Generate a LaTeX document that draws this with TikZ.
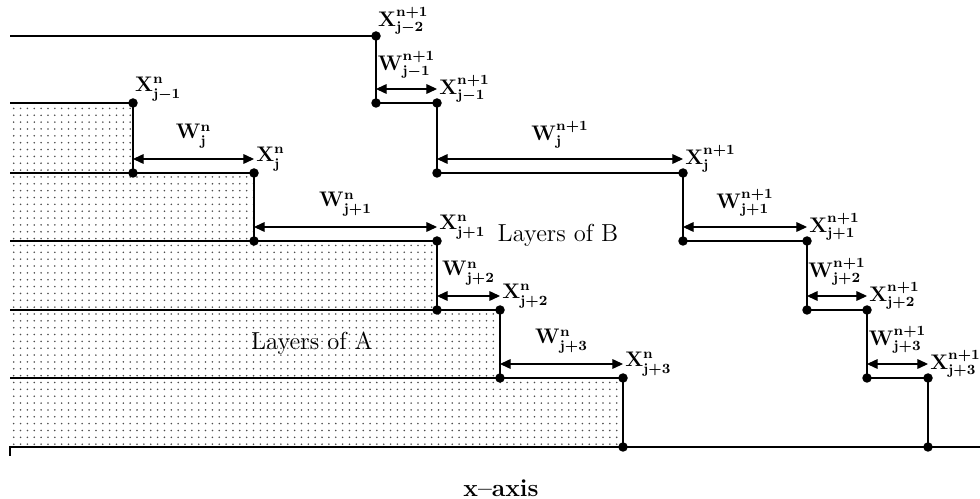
\documentclass[tikz,border=0pt]{standalone}
\usetikzlibrary{arrows.meta,patterns.meta}
\tikzset{
  every node/.style={text=black},
  dot/.style={circle, fill=black, inner sep=0pt, minimum size=0.19cm},
  layer/.style={line width=1.6pt, line join=miter},
  axisl/.style={line width=0.8pt},
  dim/.style={{Triangle[length=6pt,width=5.5pt]}-{Triangle[length=6pt,width=5.5pt]}, line width=0.6pt},
  lab/.style={font=\fontsize{12}{14}\selectfont\boldmath, inner sep=1pt},
  wlab/.style={lab, above=5pt},
  xlab/.style={lab, anchor=west},
  xtop/.style={lab, anchor=south west},
  fillA/.style={pattern={Dots[distance=3.9pt,radius=0.5pt]}, pattern color=black!70},
  layertxt/.style={font=\fontsize{14}{16}\selectfont},
}
\newcommand{\steplab}[3]{$\mathbf{#1}^{\mathbf{#2}}_{\mathbf{#3}}$}

\begin{document}
\begin{tikzpicture}[x=0.02cm,y=-0.02cm]
\useasboundingbox (0,0) rectangle (980,499);
% free ends on the left and the axis
\coordinate (lB) at (10,36);
\coordinate (lA0) at (10,103);
\coordinate (lA1) at (10,173);
\coordinate (lA2) at (10,241);
\coordinate (lA3) at (10,310);
\coordinate (lA4) at (10,378);
\coordinate (lA5) at (10,447);
\coordinate (axT) at (10,456);
\coordinate (axR) at (980,447);
% corners of the A front
\coordinate (pA0) at (133,103);
\coordinate (pA1) at (133,173);
\coordinate (pA2) at (254,173);
\coordinate (pA3) at (254,241);
\coordinate (pA4) at (437,241);
\coordinate (pA5) at (437,310);
\coordinate (pA6) at (500,310);
\coordinate (pA7) at (500,378);
\coordinate (pA8) at (623,378);
\coordinate (pA9) at (623,447);
% corners of the B front
\coordinate (pB0) at (376,36);
\coordinate (pB1) at (376,103);
\coordinate (pB2) at (437,103);
\coordinate (pB3) at (437,173);
\coordinate (pB4) at (683,173);
\coordinate (pB5) at (683,241);
\coordinate (pB6) at (807,241);
\coordinate (pB7) at (807,310);
\coordinate (pB8) at (867,310);
\coordinate (pB9) at (867,378);
\coordinate (pB10) at (928,378);
\coordinate (pB11) at (928,447);
% dotted layers of A
\fill[fillA] (lA0) -- (pA0) -- (pA1) -- (pA2) -- (pA3) -- (pA4) -- (pA5) -- (pA6) -- (pA7) -- (pA8) -- (pA9) -- (lA5) -- cycle;
% layer boundaries
\draw[layer] (lA0) -- (pA0) -- (pA1) -- (pA2) -- (pA3) -- (pA4) -- (pA5) -- (pA6) -- (pA7) -- (pA8) -- (pA9);
\draw[layer] (lA1) -- (pA1);
\draw[layer] (lA2) -- (pA3);
\draw[layer] (lA3) -- (pA5);
\draw[layer] (lA4) -- (pA7);
\draw[layer] (lB) -- (pB0) -- (pB1) -- (pB2) -- (pB3) -- (pB4) -- (pB5) -- (pB6) -- (pB7) -- (pB8) -- (pB9) -- (pB10) -- (pB11);
\draw[axisl] (axT) -- (lA5) -- (axR);
% widths of A
\draw[dim] ([yshift=0.28cm]pA1) -- node[wlab] (wA1) {\steplab{W}{n}{j}} ([yshift=0.28cm]pA2) node[xlab] (xA1) {\steplab{X}{n}{j}};
\draw[dim] ([yshift=0.28cm]pA3) -- node[wlab] (wA2) {\steplab{W}{n}{j+1}} ([yshift=0.28cm]pA4) node[xlab] (xA2) {\steplab{X}{n}{j+1}};
\draw[dim] ([yshift=0.28cm]pA5) -- node[wlab] (wA3) {\steplab{W}{n}{j+2}} ([yshift=0.28cm]pA6) node[xlab] (xA3) {\steplab{X}{n}{j+2}};
\draw[dim] ([yshift=0.28cm]pA7) -- node[wlab] (wA4) {\steplab{W}{n}{j+3}} ([yshift=0.28cm]pA8) node[xlab] (xA4) {\steplab{X}{n}{j+3}};
% widths of B
\draw[dim] ([yshift=0.28cm]pB1) -- node[wlab] (wB1) {\steplab{W}{n+1}{j-1}} ([yshift=0.28cm]pB2) node[xlab] (xB1) {\steplab{X}{n+1}{j-1}};
\draw[dim] ([yshift=0.28cm]pB3) -- node[wlab] (wB2) {\steplab{W}{n+1}{j}} ([yshift=0.28cm]pB4) node[xlab] (xB2) {\steplab{X}{n+1}{j}};
\draw[dim] ([yshift=0.28cm]pB5) -- node[wlab] (wB3) {\steplab{W}{n+1}{j+1}} ([yshift=0.28cm]pB6) node[xlab] (xB3) {\steplab{X}{n+1}{j+1}};
\draw[dim] ([yshift=0.28cm]pB7) -- node[wlab] (wB4) {\steplab{W}{n+1}{j+2}} ([yshift=0.28cm]pB8) node[xlab] (xB4) {\steplab{X}{n+1}{j+2}};
\draw[dim] ([yshift=0.28cm]pB9) -- node[wlab] (wB5) {\steplab{W}{n+1}{j+3}} ([yshift=0.28cm]pB10) node[xlab] (xB5) {\steplab{X}{n+1}{j+3}};
% top corner labels
\node[xtop] (xA0) at (pA0) {\steplab{X}{n}{j-1}};
\node[xtop] (xB0) at (pB0) {\steplab{X}{n+1}{j-2}};
% corner dots
\foreach \p in {pA0,pA1,pA2,pA3,pA4,pA5,pA6,pA7,pA8,pA9,pB0,pB1,pB2,pB3,pB4,pB5,pB6,pB7,pB8,pB9,pB10,pB11}
  \node[dot] at (\p) {};
% texts
\node[layertxt] (tA) at (312,343) {Layers of A};
\node[layertxt] (tB) at (558,235) {Layers of B};
\node[font=\fontsize{14}{16}\selectfont\bfseries] (tX) at (501,488) {x--axis};
\end{tikzpicture}
\end{document}
